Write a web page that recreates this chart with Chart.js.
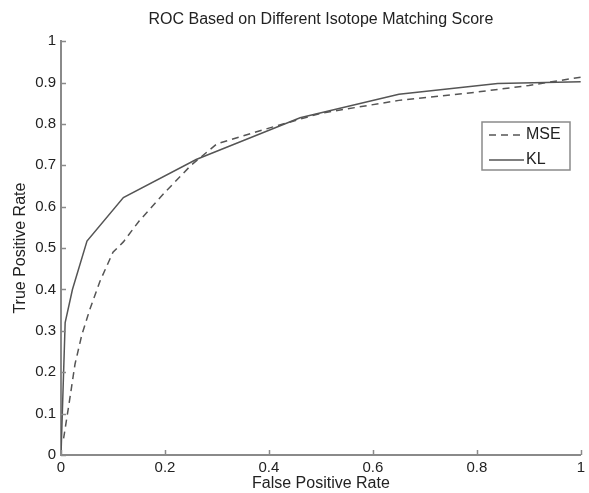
<!DOCTYPE html>
<html>
<head>
<meta charset="utf-8">
<script src="https://cdn.jsdelivr.net/npm/chart.js@4.4.1/dist/chart.umd.min.js"></script>
<style>
  html, body { margin: 0; padding: 0; background: #fff; }
  #wrap { width: 589px; height: 493px; }
</style>
</head>
<body>
<div id="wrap"><canvas id="rocChart" width="589" height="493"></canvas></div>
<script>
// ROC points
const mseFpr = [0.005, 0.015, 0.027, 0.04, 0.055, 0.075, 0.1, 0.12, 0.15, 0.2, 0.25, 0.3, 0.4, 0.5, 0.65, 0.8, 0.9, 1.0];
const mseTpr = [0.04, 0.12, 0.22, 0.29, 0.35, 0.42, 0.49, 0.515, 0.565, 0.635, 0.70, 0.752, 0.79, 0.826, 0.857, 0.877, 0.893, 0.913];

const klFpr = [0, 0.008, 0.022, 0.05, 0.12, 0.26, 0.46, 0.65, 0.84, 1.0];
const klTpr = [0, 0.32, 0.40, 0.517, 0.622, 0.714, 0.815, 0.872, 0.898, 0.902];

const xTicks = [0, 0.2, 0.4, 0.6, 0.8, 1];
const yTicks = [0, 0.1, 0.2, 0.3, 0.4, 0.5, 0.6, 0.7, 0.8, 0.9, 1];

const FONT = 'Liberation Sans, Arial, Helvetica, sans-serif';
const AXIS_COLOR = '#8a8a8a';
const TEXT_COLOR = '#222';

const toPoints = (xs, ys) => xs.map((x, i) => ({ x: x, y: ys[i] }));

// inward tick marks, matlab style
const tickMarks = {
    id: 'tickMarks',
    afterDatasetsDraw(chart) {
        const { ctx, chartArea, scales } = chart;
        ctx.save();
        ctx.strokeStyle = AXIS_COLOR;
        ctx.lineWidth = 1.5;
        ctx.beginPath();
        xTicks.forEach(v => {
            const px = Math.round(scales.x.getPixelForValue(v)) + 0.5;
            ctx.moveTo(px, chartArea.bottom);
            ctx.lineTo(px, chartArea.bottom - 5);
        });
        yTicks.forEach(v => {
            const py = Math.round(scales.y.getPixelForValue(v)) + 0.5;
            ctx.moveTo(chartArea.left, py);
            ctx.lineTo(chartArea.left + 5, py);
        });
        ctx.stroke();
        ctx.restore();
    }
};

// boxed legend inside the plot
const boxLegend = {
    id: 'boxLegend',
    afterDraw(chart) {
        const { ctx } = chart;
        const box = { x: 482, y: 122, w: 88, h: 48 };
        ctx.save();
        ctx.fillStyle = '#fff';
        ctx.fillRect(box.x, box.y, box.w, box.h);
        ctx.strokeStyle = AXIS_COLOR;
        ctx.lineWidth = 1.5;
        ctx.strokeRect(box.x, box.y, box.w, box.h);
        ctx.font = '16px ' + FONT;
        ctx.textBaseline = 'middle';
        chart.data.datasets.forEach((ds, i) => {
            const y = box.y + 13 + i * 25;
            ctx.strokeStyle = ds.borderColor;
            ctx.lineWidth = ds.borderWidth;
            ctx.setLineDash(ds.borderDash || []);
            ctx.beginPath();
            ctx.moveTo(box.x + 7, y);
            ctx.lineTo(box.x + 42, y);
            ctx.stroke();
            ctx.setLineDash([]);
            ctx.fillStyle = TEXT_COLOR;
            ctx.fillText(ds.label, box.x + 44, y);
        });
        ctx.restore();
    }
};

new Chart(document.getElementById('rocChart'), {
    type: 'line',
    data: {
        datasets: [{
            label: 'MSE',
            data: toPoints(mseFpr, mseTpr),
            borderColor: '#555',
            borderWidth: 1.5,
            borderDash: [7, 5],
            pointRadius: 0,
            tension: 0,
            fill: false
        }, {
            label: 'KL',
            data: toPoints(klFpr, klTpr),
            borderColor: '#555',
            borderWidth: 1.5,
            pointRadius: 0,
            tension: 0,
            fill: false
        }]
    },
    options: {
        responsive: false,
        animation: false,
        layout: { padding: { top: 0, right: 4, left: 0, bottom: 0 } },
        plugins: {
            legend: { display: false },
            tooltip: { enabled: false },
            title: {
                display: true,
                fullSize: false, // centre over the plot area like matlab
                text: 'ROC Based on Different Isotope Matching Score',
                color: TEXT_COLOR,
                font: { family: FONT, size: 16, weight: 'normal' },
                padding: { top: 10, bottom: 12 }
            }
        },
        scales: {
            x: {
                type: 'linear',
                min: 0,
                max: 1,
                afterFit: scale => { scale.height = 38; },
                afterBuildTicks: scale => { scale.ticks = xTicks.map(v => ({ value: v })); },
                grid: { display: false, drawTicks: false },
                border: { display: true, color: AXIS_COLOR, width: 2 },
                ticks: {
                    color: TEXT_COLOR,
                    font: { family: FONT, size: 15 },
                    padding: 4,
                    maxRotation: 0,
                    callback: v => String(v)
                },
                title: {
                    display: true,
                    text: 'False Positive Rate',
                    color: TEXT_COLOR,
                    font: { family: FONT, size: 16 },
                    padding: { top: 0, bottom: 0 }
                }
            },
            y: {
                type: 'linear',
                min: 0,
                max: 1,
                afterFit: scale => { scale.width = 61; },
                afterBuildTicks: scale => { scale.ticks = yTicks.map(v => ({ value: v })); },
                grid: { display: false, drawTicks: false },
                border: { display: true, color: AXIS_COLOR, width: 2 },
                ticks: {
                    color: TEXT_COLOR,
                    font: { family: FONT, size: 15 },
                    padding: 5,
                    callback: v => String(v)
                },
                title: {
                    display: true,
                    text: 'True Positive Rate',
                    color: TEXT_COLOR,
                    font: { family: FONT, size: 16 },
                    padding: { top: 11, bottom: 0 }
                }
            }
        }
    },
    plugins: [tickMarks, boxLegend]
});
</script>
</body>
</html>
